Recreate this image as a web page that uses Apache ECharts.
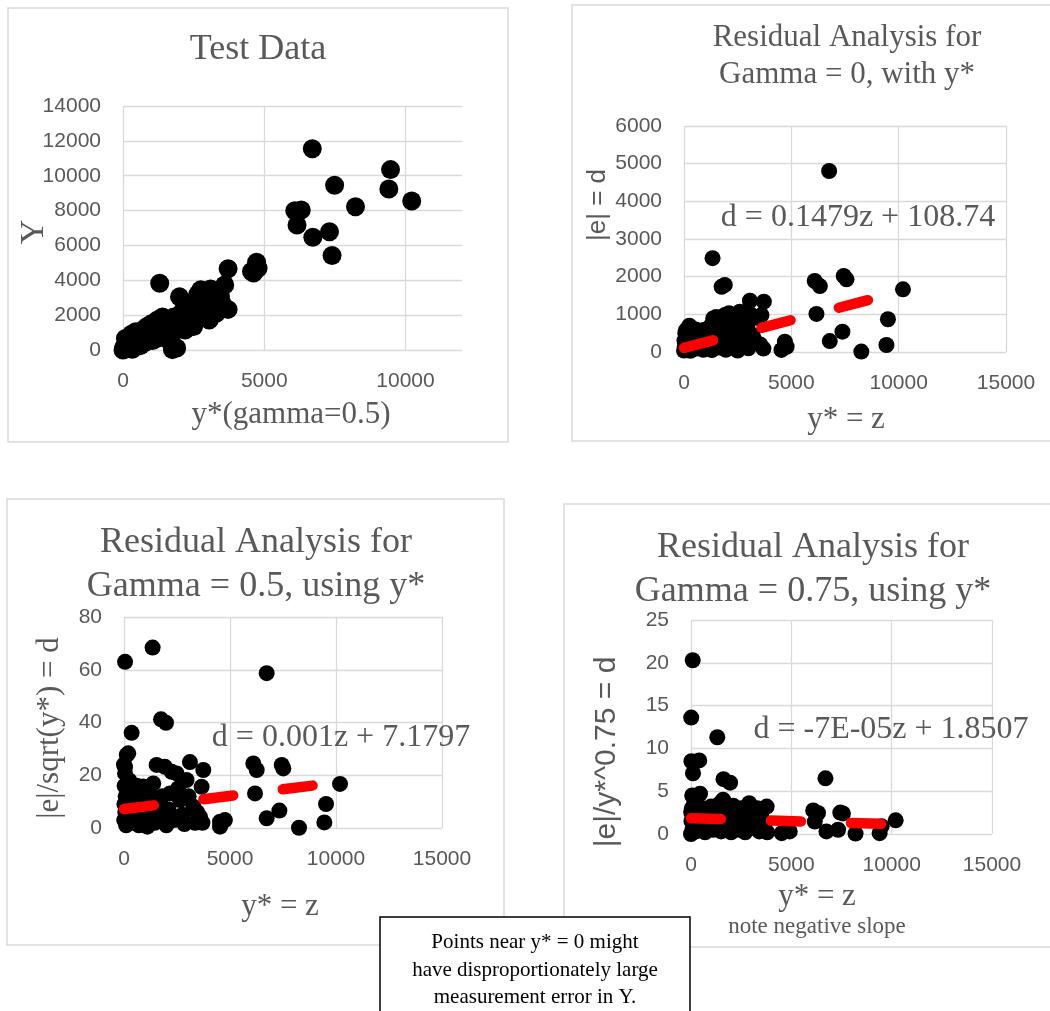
<!DOCTYPE html>
<html>
<head>
<meta charset="utf-8">
<style>
  html, body { margin: 0; padding: 0; background: #fff; }
  #chart { width: 1050px; height: 1011px; }
</style>
<script src="https://cdn.jsdelivr.net/npm/echarts@6/dist/echarts.min.js"></script>
</head>
<body>
<div id="chart"></div>
<script>
// ---- data ----
// panel 1: Y against y*(gamma=0.5)
const testData = [
  [6700, 11550], [9470, 10350], [9410, 9240], [7490, 9450], [10220, 8550], [8230, 8220],
  [6080, 7990], [6310, 8030], [6160, 7170], [6720, 6470], [7310, 6790], [7400, 5420],
  [3720, 4660], [4730, 5030], [4550, 4500], [4780, 4690], [4620, 4420], [1300, 3830],
  [3600, 3730], [3720, 2330], [85, 660],
  [0, 0], [30, 150], [60, 60], [100, 380], [150, 250], [200, 600], [250, 120], [300, 900],
  [330, 40], [400, 500], [450, 1050], [500, 300], [560, 700], [620, 250], [700, 900],
  [750, 1200], [800, 450], [850, 1350], [900, 700], [950, 1100], [1000, 1500], [1050, 550],
  [1100, 900], [1150, 1550], [1200, 1250], [1250, 700], [1300, 1450], [1400, 1100],
  [1450, 1650], [1500, 1300], [1550, 850], [1600, 1750], [1650, 1200], [1700, 1500],
  [1750, 20], [1800, 1900], [1850, 1100], [1900, 120], [1950, 1600], [2000, 3050],
  [2050, 1900], [2100, 2200], [2150, 1400], [2200, 2500], [2300, 2000], [2350, 2700],
  [2400, 1600], [2450, 2300], [2500, 1350], [2550, 2800], [2600, 2100], [2650, 3200],
  [2700, 2500], [2750, 3450], [2800, 2000], [2850, 2900], [2900, 3300], [3000, 2600],
  [3050, 1720], [3100, 3500], [3150, 2200], [3200, 3100], [3300, 2800], [3350, 2500],
  [3450, 3100], [3500, 2700], [1200, 1700], [1400, 1900], [2600, 1700], [2900, 1900],
  [3300, 2100], [2200, 1150], [1000, 800], [1700, 400]
];

// panel 2: |e| = d against y* = z
const resid0 = [
  [85, 575], [1330, 2490], [1750, 1730], [1900, 1780], [6760, 4805], [6090, 1885],
  [6330, 1750], [7440, 2020], [7570, 1930], [10200, 1665], [6170, 1010], [9500, 870],
  [7380, 540], [6790, 290], [9430, 185], [8260, 10], [3070, 1360], [3720, 1335],
  [3610, 980], [4700, 275], [4780, 140], [4540, 55],
  [0, 40], [20, 300], [40, 150], [60, 500], [100, 80], [150, 420], [200, 250], [250, 700],
  [300, 30], [350, 640], [400, 180], [500, 350], [550, 600], [600, 90], [700, 250],
  [800, 500], [900, 60], [950, 590], [1000, 300], [1100, 150], [1200, 420], [1250, 700],
  [1300, 50], [1360, 890], [1400, 250], [1500, 930], [1550, 500], [1650, 120], [1700, 700],
  [1800, 350], [1900, 980], [1950, 60], [2000, 850], [2100, 1030], [2150, 150], [2200, 600],
  [2300, 300], [2400, 800], [2500, 40], [2530, 1030], [2600, 1070], [2650, 450], [2700, 650],
  [2800, 200], [2850, 900], [2950, 700], [3000, 100], [3100, 1000], [3200, 450], [3300, 300],
  [3450, 900], [3550, 200], [3700, 90]
];

// panel 3: |e|/sqrt(y*) = d against y* = z
const resid05 = [
  [50, 63], [1350, 68.4], [1745, 41.2], [1980, 39.9], [6730, 58.7], [360, 36.1],
  [6100, 24.5], [6260, 22], [7440, 23.9], [7515, 22.6], [6180, 13.1], [10190, 16.7],
  [9530, 9.1], [7330, 6.6], [6730, 3.7], [9450, 2.1], [8255, 0.1], [4530, 2.4],
  [4760, 3.0], [4530, 0.5], [130, 27.7], [50, 23.2],
  [0, 24], [50, 20.7], [30, 16], [80, 12], [20, 9], [60, 6], [10, 3], [100, 1],
  [200, 28.3], [150, 11], [250, 18], [280, 15.7], [300, 4], [350, 8], [400, 13], [450, 2],
  [500, 10], [600, 16], [650, 6], [700, 1], [800, 12], [900, 15.7], [950, 4], [1000, 9],
  [1100, 0.5], [1200, 13], [1250, 6], [1380, 16.9], [1450, 2], [1540, 23.9], [1600, 9],
  [1700, 4.3], [1800, 12], [1930, 23.2], [2000, 1], [2100, 7], [2170, 13.1], [2250, 21.3],
  [2350, 3], [2480, 20.7], [2550, 15], [2640, 10.6], [2750, 5], [2850, 1.5], [2950, 18.2],
  [3050, 12], [3110, 25], [3270, 8.1], [3350, 2], [3450, 6], [3580, 4.3], [3660, 15.6],
  [3740, 22], [3700, 2]
];

// panel 4: |e|/y*^0.75 = d against y* = z
const resid075 = [
  [85, 20.3], [10, 13.6], [1310, 11.3], [20, 8.5], [410, 8.6], [100, 7.1], [1620, 6.4],
  [1950, 6.0], [6700, 6.5], [6090, 2.75], [6330, 2.45], [6170, 1.45], [7440, 2.5],
  [7570, 2.4], [10200, 1.6], [6750, 0.3], [7330, 0.5], [8200, 0.05], [9400, 0.1],
  [9500, 0.9], [4520, 0.1], [4920, 0.3],
  [0, 0], [20, 1.5], [40, 3], [60, 4.5], [10, 2.5], [80, 0.5], [100, 2], [150, 3.5],
  [200, 1], [250, 0.3], [300, 2.5], [400, 1.5], [450, 4.7], [500, 0.8], [600, 3],
  [700, 0.2], [800, 2], [900, 1], [1000, 3.2], [1100, 0.5], [1200, 2.2], [1300, 1.2],
  [1400, 3.5], [1500, 0.3], [1600, 4], [1700, 1.8], [1800, 0.6], [1900, 2.8], [2000, 0.2],
  [2100, 3.3], [2200, 1.2], [2300, 2.2], [2400, 0.5], [2500, 3], [2600, 1.5], [2700, 0.2],
  [2800, 2.6], [2900, 3.6], [3000, 0.8], [3100, 2], [3200, 1], [3300, 3], [3400, 0.3],
  [3500, 2.2], [3650, 1.2], [3770, 3.2], [3800, 0.2]
];

// linear trendlines (ends of the fitted lines over the data range)
const trend0 = [[0, 108.74], [10220, 1620.3]];
const trend05 = [[0, 7.18], [10220, 17.40]];
const trend075 = [[0, 1.851], [10220, 1.135]];

// axis ranges
const xMax = [12000, 15000, 15000, 15000];
const xStep = [5000, 5000, 5000, 5000];
const yMax = [14000, 6000, 80, 25];
const yStep = [2000, 1000, 20, 5];

const SERIF = '"Liberation Serif", "Times New Roman", serif';
const SANS = '"Liberation Sans", Arial, sans-serif';
const GRAY = '#595959';
const GRID_LINE = '#d9d9d9';

const myChart = echarts.init(document.getElementById('chart'), null, { renderer: 'canvas' });

const grids = [
  { left: 123, top: 106, width: 339, height: 244 },
  { left: 684, top: 126, width: 322, height: 226 },
  { left: 124, top: 617, width: 318, height: 211 },
  { left: 691, top: 620, width: 301, height: 214 }
];

const plain = (v) => String(v);

const xAxes = grids.map((g, i) => ({
  type: 'value', gridIndex: i, min: 0, max: xMax[i], interval: xStep[i],
  axisLine: { show: false }, axisTick: { show: false },
  axisLabel: { color: GRAY, fontFamily: SANS, fontSize: 21, margin: 21, showMaxLabel: i !== 0, formatter: plain },
  splitLine: { show: true, showMaxLine: i !== 0, lineStyle: { color: GRID_LINE, width: 1.3 } }
}));

const yAxes = grids.map((g, i) => ({
  type: 'value', gridIndex: i, min: 0, max: yMax[i], interval: yStep[i],
  axisLine: { show: false }, axisTick: { show: false },
  axisLabel: { color: GRAY, fontFamily: SANS, fontSize: 21, margin: 22, formatter: plain },
  splitLine: { show: true, lineStyle: { color: GRID_LINE, width: 1.3 } }
}));

function dots(data, i, size) {
  return {
    type: 'scatter', xAxisIndex: i, yAxisIndex: i, data: data,
    symbolSize: size, itemStyle: { color: '#000000', opacity: 1 }, z: 2, silent: true
  };
}

function trend(data, i) {
  return {
    type: 'line', xAxisIndex: i, yAxisIndex: i, data: data,
    showSymbol: false, symbol: 'none', silent: true, z: 3,
    lineStyle: { color: '#ff0000', width: 10.5, type: [30, 50], cap: 'round' }
  };
}

function txt(x, y, text, size, family, color, rot) {
  return {
    type: 'text', x: x, y: y, rotation: rot || 0, z: 50, silent: true,
    style: {
      text: text, fontSize: size, fontFamily: family, fill: color,
      align: 'center', verticalAlign: 'middle',
      textAlign: 'center', textVerticalAlign: 'middle'
    }
  };
}

function box(x, y, w, h) {
  return {
    type: 'rect', z: 0, silent: true,
    shape: { x: x, y: y, width: w, height: h },
    style: { fill: 'none', stroke: GRID_LINE, lineWidth: 1.5 }
  };
}

const R = Math.PI / 2;

const option = {
  backgroundColor: '#ffffff',
  animation: false,
  grid: grids,
  xAxis: xAxes,
  yAxis: yAxes,
  series: [
    dots(testData, 0, 19),
    dots(resid0, 1, 16),
    dots(resid05, 2, 16),
    dots(resid075, 3, 16),
    trend(trend0, 1),
    trend(trend05, 2),
    trend(trend075, 3)
  ],
  graphic: [
    // chart frames
    box(8, 8, 500, 434),
    box(572, 5, 490, 436),
    box(7, 499, 497, 446),
    box(564, 504, 498, 443),

    // panel 1
    txt(258, 50, 'Test Data', 36, SERIF, GRAY),
    txt(34, 232, 'Y', 34, SERIF, GRAY, R),
    txt(291, 415, 'y*(gamma=0.5)', 31, SERIF, GRAY),

    // panel 2
    txt(847, 38, 'Residual Analysis for', 31, SERIF, GRAY),
    txt(847, 75, 'Gamma = 0, with y*', 31, SERIF, GRAY),
    txt(598, 205, '|e| = d', 26, SANS, GRAY, R),
    txt(846, 420, 'y* = z', 31, SERIF, GRAY),
    txt(858, 218, 'd = 0.1479z + 108.74', 32, SERIF, GRAY),

    // panel 3
    txt(256, 543, 'Residual Analysis for', 36, SERIF, GRAY),
    txt(256, 587, 'Gamma = 0.5, using y*', 36, SERIF, GRAY),
    txt(50, 728, '|e|/sqrt(y*) = d', 31, SERIF, GRAY, R),
    txt(280, 907, 'y* = z', 31, SERIF, GRAY),
    txt(341, 738, 'd = 0.001z + 7.1797', 32, SERIF, GRAY),

    // panel 4
    txt(813, 548, 'Residual Analysis for', 36, SERIF, GRAY),
    txt(813, 592, 'Gamma = 0.75, using y*', 36, SERIF, GRAY),
    txt(607, 752, '|e|/y*^0.75 = d', 30, SANS, GRAY, R),
    txt(817, 897, 'y* = z', 31, SERIF, GRAY),
    txt(817, 927, 'note negative slope', 23, SERIF, GRAY),
    txt(891, 730, 'd = -7E-05z + 1.8507', 32, SERIF, GRAY),

    // note box
    {
      type: 'rect', z: 90, silent: true,
      shape: { x: 380, y: 917, width: 310, height: 110 },
      style: { fill: '#ffffff', stroke: '#000000', lineWidth: 1.5 }
    },
    Object.assign(txt(535, 942, 'Points near y* = 0 might', 21, SERIF, '#000000'), { z: 95 }),
    Object.assign(txt(535, 970, 'have disproportionately large', 21, SERIF, '#000000'), { z: 95 }),
    Object.assign(txt(535, 997, 'measurement error in Y.', 21, SERIF, '#000000'), { z: 95 })
  ]
};

myChart.setOption(option);
</script>
</body>
</html>
